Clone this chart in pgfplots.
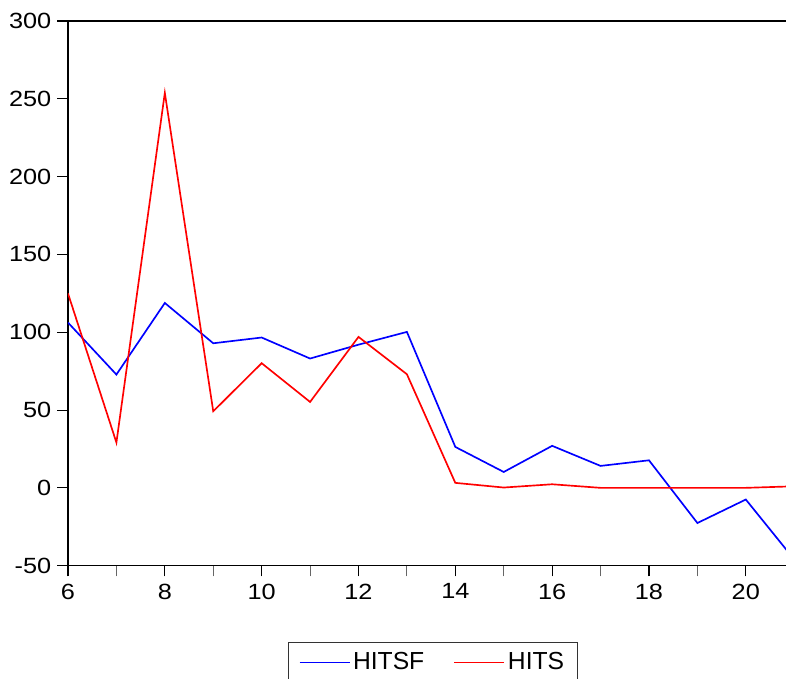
\documentclass[border=0pt]{standalone}
\usepackage{pgfplots}
\pgfplotsset{compat=1.18}
\usepackage{fontspec}
\setmainfont{Liberation Sans}
\newfontfamily\tickfont{Liberation Sans}[FakeStretch=1.15]
\begin{document}
\begin{tikzpicture}
\begin{axis}[
  scale only axis, width=538.5pt, height=408.5pt,
  xmin=6, xmax=20.83, ymin=-50, ymax=300,
  axis x line*=box, axis y line*=left,
  xtick pos=left, ytick pos=left,
  xtick={6,8,...,20}, minor xtick={7,9,...,21},
  ytick={-50,0,...,300},
  tick align=outside, major tick length=8pt, minor tick length=8pt,
  major tick style={black, line width=0.8pt},
  minor tick style={black!60, line width=0.8pt},
  axis line style={line width=1.2pt},
  tick label style={font=\tickfont\fontsize{16.5}{16.5}\selectfont},
  xticklabel style={yshift=-2pt},
  yticklabel style={xshift=-1pt},
  /pgf/number format/assume math mode=true,
  legend style={at={(0.508,0)}, anchor=north, yshift=-57pt,
    draw=black!80, line width=0.6pt,
    font=\fontsize{18.5}{20}\selectfont,
    /tikz/every even column/.append style={column sep=20pt},
    inner xsep=8pt, inner ysep=6pt},
  legend columns=2,
  legend image code/.code={\draw[#1] (0pt,0pt) -- (37.5pt,0pt);},
]
\addplot[blue, line width=1.25pt] coordinates {
(6,106.2) (7,72.8) (8,118.8) (9,92.9) (10,96.6) (11,83.1) (12,92) (13,100.2)
(14,26.3) (15,10.2) (16,27) (17,14.1) (18,17.7) (19,-22.6) (20,-7.5) (21,-46)};
\addlegendentry{HITSF}
\addplot[red, line width=1.25pt] coordinates {
(6,124.9) (7,29.1) (8,253.8) (9,49.2) (10,80.1) (11,55.2) (12,97) (13,73)
(14,3.2) (15,0.2) (16,2.3) (17,0) (18,0) (19,0) (20,0) (21,1)};
\addlegendentry{HITS}
\end{axis}
\pgfresetboundingbox
\path ([xshift=-51pt,yshift=-85pt]current axis.south west) rectangle ([yshift=15.75pt]current axis.north east);
\end{tikzpicture}
\end{document}
